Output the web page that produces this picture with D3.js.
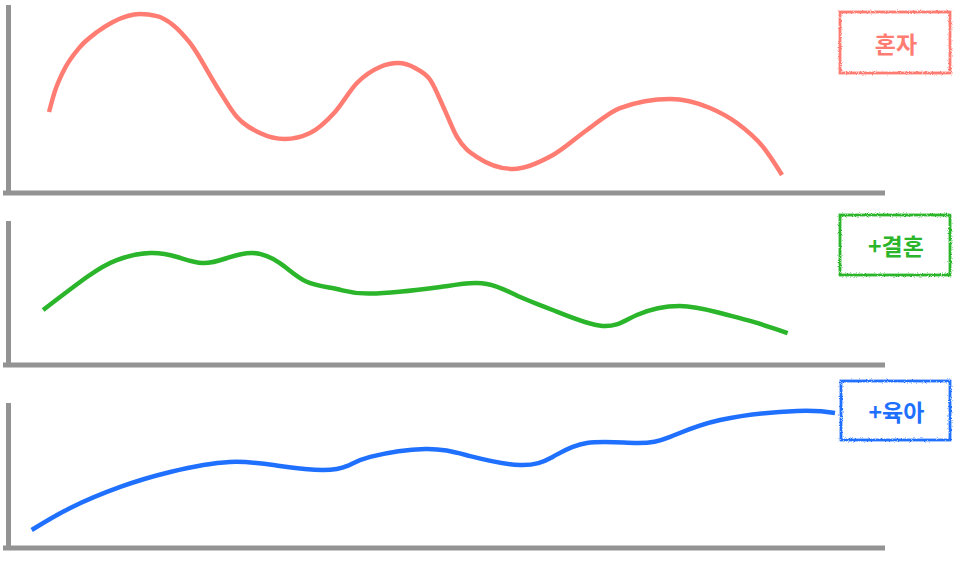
<!DOCTYPE html>
<html>
<head>
<meta charset="utf-8">
<script src="https://cdn.jsdelivr.net/npm/d3@7"></script>
<style>
  html, body { margin: 0; padding: 0; background: #fff; }
  svg { display: block; }
</style>
</head>
<body>
<svg id="chart" width="960" height="562"></svg>
<script>
// ---- data ----
const seriesNames = ["혼자", "+결혼", "+육아"];
const seriesColors = ["#ff7c72", "#2ab52a", "#2070ff"];

const aloneX = [4.68, 5.36, 6.27, 8.21, 10.15, 11.97, 15.05, 16.99, 18.81, 20.75, 23.83, 26.11, 28.73, 31.58, 34.44, 37.29, 39.79, 42.42, 44.47, 46.41, 48.15, 49.8, 51.2, 53.48, 57.58, 62.14, 66.02, 69.78, 75.48, 80.05, 83.12, 86.09, 88.26];
const aloneY = [43.1, 54.3, 64.4, 77.7, 85.6, 91.0, 95.2, 94.1, 89.4, 79.8, 56.4, 40.4, 31.9, 28.7, 31.9, 43.1, 58.5, 67.0, 69.1, 66.5, 60.1, 44.1, 29.8, 19.1, 12.8, 20.2, 33.5, 45.2, 50.0, 45.2, 37.2, 24.5, 9.6];

const marriedX = [4.0, 9.0, 12.4, 16.2, 19.3, 22.2, 25.0, 27.9, 31.0, 34.0, 37.5, 41.3, 49.3, 54.6, 58.4, 62.1, 67.8, 71.7, 76.6, 81.2, 85.0, 88.9];
const marriedY = [38.2, 61.1, 72.9, 77.8, 75.0, 70.8, 74.3, 77.8, 70.8, 58.0, 52.8, 49.6, 54.2, 56.3, 47.2, 38.2, 27.1, 34.7, 41.0, 36.1, 29.9, 22.2];

const parentX = [2.7, 7.1, 12.8, 18.5, 25.3, 31.0, 35.9, 38.7, 41.3, 47.6, 52.7, 58.4, 62.1, 66.0, 71.7, 75.5, 81.2, 90.0, 94.3];
const parentY = [12.4, 27.6, 42.1, 52.4, 59.3, 56.6, 53.8, 56.6, 62.8, 68.3, 63.4, 57.2, 62.8, 72.4, 72.4, 76.6, 88.3, 94.5, 93.1];

const xDomain = [0, 100];
const yDomain = [0, 100];

// ---- layout ----
const svg = d3.select("#chart");
const plotLeft = 8, plotRight = 885;
const panels = [
  { top: 5,   bottom: 193, xs: aloneX,   ys: aloneY,   curve: d3.curveMonotoneX, box: { x: 840, y: 12,  w: 110, h: 61 } },
  { top: 221, bottom: 365, xs: marriedX, ys: marriedY, curve: d3.curveNatural,   box: { x: 840, y: 215, w: 110, h: 60 } },
  { top: 403, bottom: 548, xs: parentX,  ys: parentY,  curve: d3.curveNatural,   box: { x: 841, y: 381, w: 109, h: 59 } }
];

const defs = svg.append("defs");
const filt = defs.append("filter").attr("id", "rough")
  .attr("x", "-5%").attr("y", "-5%").attr("width", "110%").attr("height", "110%");
filt.append("feTurbulence").attr("type", "fractalNoise").attr("baseFrequency", 1.2)
  .attr("numOctaves", 2).attr("seed", 3).attr("result", "noise");
filt.append("feDisplacementMap").attr("in", "SourceGraphic").attr("in2", "noise")
  .attr("scale", 3).attr("xChannelSelector", "R").attr("yChannelSelector", "G");

const x = d3.scaleLinear().domain(xDomain).range([plotLeft, plotRight]);
const axisColor = "#939393";

panels.forEach((p, i) => {
  const y = d3.scaleLinear().domain(yDomain).range([p.bottom, p.top]);
  const g = svg.append("g");

  // axes
  g.append("line")
    .attr("x1", x.range()[0] + 0.5).attr("x2", x.range()[0] + 0.5)
    .attr("y1", y.range()[1]).attr("y2", y.range()[0])
    .attr("stroke", axisColor).attr("stroke-width", 5);
  g.append("line")
    .attr("x1", x.range()[0] - 5).attr("x2", x.range()[1])
    .attr("y1", y.range()[0]).attr("y2", y.range()[0])
    .attr("stroke", axisColor).attr("stroke-width", 5);

  // line
  const pts = p.xs.map((v, k) => [v, p.ys[k]]);
  const line = d3.line().x(d => x(d[0])).y(d => y(d[1])).curve(p.curve);
  g.append("path").datum(pts)
    .attr("d", line)
    .attr("fill", "none")
    .attr("stroke", seriesColors[i])
    .attr("stroke-width", 4.5)
    .attr("stroke-linejoin", "round");

  // legend box
  const b = p.box;
  g.append("rect")
    .attr("x", b.x).attr("y", b.y).attr("width", b.w).attr("height", b.h)
    .attr("fill", "#fff")
    .attr("stroke", seriesColors[i]).attr("stroke-width", 2.8)
    .attr("filter", "url(#rough)");
  g.append("text")
    .attr("x", b.x + b.w / 2 + 1).attr("y", b.y + b.h / 2)
    .attr("text-anchor", "middle").attr("dominant-baseline", "central")
    .attr("font-family", "'Noto Sans CJK KR', 'Noto Sans', sans-serif")
    .attr("font-weight", 700).attr("font-size", 23)
    .attr("fill", seriesColors[i])
    .text(seriesNames[i]);
});
</script>
</body>
</html>
